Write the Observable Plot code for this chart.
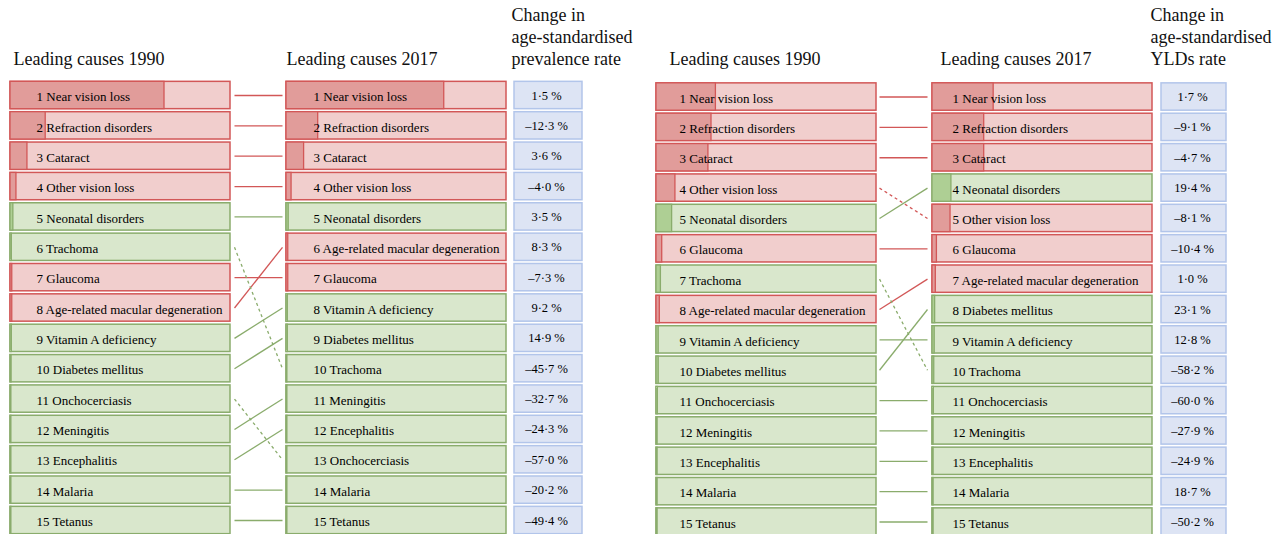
<!DOCTYPE html>
<html>
<head>
<meta charset="utf-8">
<script src="https://cdn.jsdelivr.net/npm/d3@7"></script>
<script src="https://cdn.jsdelivr.net/npm/@observablehq/plot@0.6"></script>
<style>
  html, body { margin: 0; padding: 0; background: #fff; }
  svg { display: block; }
  svg text { font-family: 'Liberation Serif', 'Times New Roman', serif; }
</style>
</head>
<body>
<div id="chart"></div>
<script>
// ---- data ----
const visionLoss = ["Near vision loss", "Refraction disorders", "Cataract", "Other vision loss", "Glaucoma", "Age-related macular degeneration"];

const prev1990 = ["Near vision loss", "Refraction disorders", "Cataract", "Other vision loss", "Neonatal disorders", "Trachoma", "Glaucoma", "Age-related macular degeneration", "Vitamin A deficiency", "Diabetes mellitus", "Onchocerciasis", "Meningitis", "Encephalitis", "Malaria", "Tetanus"];
const prev2017 = ["Near vision loss", "Refraction disorders", "Cataract", "Other vision loss", "Neonatal disorders", "Age-related macular degeneration", "Glaucoma", "Vitamin A deficiency", "Diabetes mellitus", "Trachoma", "Meningitis", "Encephalitis", "Onchocerciasis", "Malaria", "Tetanus"];
const prevShare1990 = [0.70, 0.16, 0.077, 0.027, 0.013, 0.006, 0.008, 0.008, 0.006, 0.005, 0.004, 0.004, 0.004, 0.004, 0.004];
const prevShare2017 = [0.717, 0.144, 0.08, 0.023, 0.01, 0.008, 0.008, 0.006, 0.006, 0.004, 0.004, 0.004, 0.004, 0.004, 0.004];
const prevChange = [1.5, -12.3, 3.6, -4.0, 3.5, 8.3, -7.3, 9.2, 14.9, -45.7, -32.7, -24.3, -57.0, -20.2, -49.4];

const yld1990 = ["Near vision loss", "Refraction disorders", "Cataract", "Other vision loss", "Neonatal disorders", "Glaucoma", "Trachoma", "Age-related macular degeneration", "Vitamin A deficiency", "Diabetes mellitus", "Onchocerciasis", "Meningitis", "Encephalitis", "Malaria", "Tetanus"];
const yld2017 = ["Near vision loss", "Refraction disorders", "Cataract", "Neonatal disorders", "Other vision loss", "Glaucoma", "Age-related macular degeneration", "Diabetes mellitus", "Vitamin A deficiency", "Trachoma", "Onchocerciasis", "Meningitis", "Encephalitis", "Malaria", "Tetanus"];
const yldShare1990 = [0.27, 0.25, 0.236, 0.086, 0.071, 0.026, 0.02, 0.015, 0.01, 0.01, 0.006, 0.005, 0.005, 0.005, 0.005];
const yldShare2017 = [0.278, 0.235, 0.235, 0.086, 0.082, 0.02, 0.015, 0.012, 0.01, 0.008, 0.006, 0.005, 0.005, 0.005, 0.005];
const yldChange = [1.7, -9.1, -4.7, 19.4, -8.1, -10.4, 1.0, 23.1, 12.8, -58.2, -60.0, -27.9, -24.9, 18.7, -50.2];

const titles1990 = "Leading causes 1990";
const titles2017 = "Leading causes 2017";
const changeTitlePrev = "Change in\nage-standardised\nprevalence rate";
const changeTitleYld = "Change in\nage-standardised\nYLDs rate";

// ---- layout ----
const boxW = 220;
const panels = [
  {r1990: prev1990, r2017: prev2017, s1990: prevShare1990, s2017: prevShare2017, change: prevChange,
   x1990: 10, x2017: 286, tx1990: 26, tx2017: 27, linkX1: 234, linkX2: 282, cx1: 514, cx2: 582, ctx: 546, off: 0,
   title1990X: 13, title2017X: 286, changeTitle: changeTitlePrev, changeTitleX: 511},
  {r1990: yld1990, r2017: yld2017, s1990: yldShare1990, s2017: yldShare2017, change: yldChange,
   x1990: 656, x2017: 932, tx1990: 23, tx2017: 20, linkX1: 879, linkX2: 927, cx1: 1161, cx2: 1226, ctx: 1192, off: 0.05,
   title1990X: 669, title2017X: 940, changeTitle: changeTitleYld, changeTitleX: 1150}
];

const boxes = [], changes = [], links = [], titles = [];
for (const p of panels) {
  p.r1990.forEach((name, i) => boxes.push({name, rank: i + 1 + p.off, label: `${i + 1} ${name}`, x: p.x1990, share: p.s1990[i], tx: p.tx1990}));
  p.r2017.forEach((name, i) => {
    boxes.push({name, rank: i + 1 + p.off, label: `${i + 1} ${name}`, x: p.x2017, share: p.s2017[i], tx: p.tx2017});
    const v = p.change[i];
    changes.push({rank: i + 1 + p.off, x1: p.cx1, x2: p.cx2, tx: p.ctx,
      label: (v < 0 ? "\u2013" : "") + Math.abs(v).toFixed(1).replace(".", "\u00b7") + " %"});
    const from = p.r1990.indexOf(name) + 1;
    links.push({name, from: from + p.off, to: i + 1 + p.off, x1: p.linkX1, x2: p.linkX2, down: (i + 1) > from});
  });
  titles.push({x: p.title1990X, text: titles1990}, {x: p.title2017X, text: titles2017}, {x: p.changeTitleX, text: p.changeTitle});
}

const isVL = d => visionLoss.includes(d.name);
const light = d => isVL(d) ? "#f1cecd" : "#d9e7cc";
const dark = d => isVL(d) ? "#e19c9a" : "#aecf94";
const edge = d => isVL(d) ? "#d25757" : "#8aac6c";
const h = 0.45;
const font = "'Liberation Serif', 'Times New Roman', serif";

const chart = Plot.plot({
  width: 1287,
  height: 534,
  margin: 0,
  x: {type: "linear", domain: [0, 1287], range: [0, 1287], axis: null},
  y: {type: "linear", domain: [1, 15], range: [95, 520], axis: null},
  style: {fontFamily: font, background: "#fff"},
  marks: [
    Plot.rect(boxes, {x1: "x", x2: d => d.x + boxW, y1: d => d.rank - h, y2: d => d.rank + h,
      fill: light, stroke: edge, strokeWidth: 1.5}),
    Plot.rect(boxes, {x1: "x", x2: d => d.x + d.share * boxW, y1: d => d.rank - h, y2: d => d.rank + h,
      fill: dark, stroke: edge, strokeWidth: 1.3}),
    Plot.text(boxes, {x: d => d.x + d.tx, y: "rank", text: "label", textAnchor: "start", fontSize: 13,
      fontFamily: font, fill: "#000", dy: 1.5}),
    Plot.rect(changes, {x1: "x1", x2: "x2", y1: d => d.rank - h, y2: d => d.rank + h,
      fill: "#dde4f4", stroke: "#b2c5ea", strokeWidth: 1.5}),
    Plot.text(changes, {x: "tx", y: "rank", text: "label", fontSize: 12.5, fontFamily: font, fill: "#000", dy: 0}),
    Plot.link(links.filter(d => !d.down), {x1: "x1", x2: "x2", y1: "from", y2: "to",
      stroke: edge, strokeWidth: 1.3}),
    Plot.link(links.filter(d => d.down), {x1: "x1", x2: "x2", y1: "from", y2: "to",
      stroke: edge, strokeWidth: 1.3, strokeDasharray: "3,3"}),
    Plot.text(titles, {x: "x", frameAnchor: "top", dy: 64, text: "text", textAnchor: "start",
      lineAnchor: "bottom", lineHeight: 1.2, fontSize: 18, fontFamily: font, fill: "#111"})
  ]
});
document.getElementById("chart").append(chart);
</script>
</body>
</html>
